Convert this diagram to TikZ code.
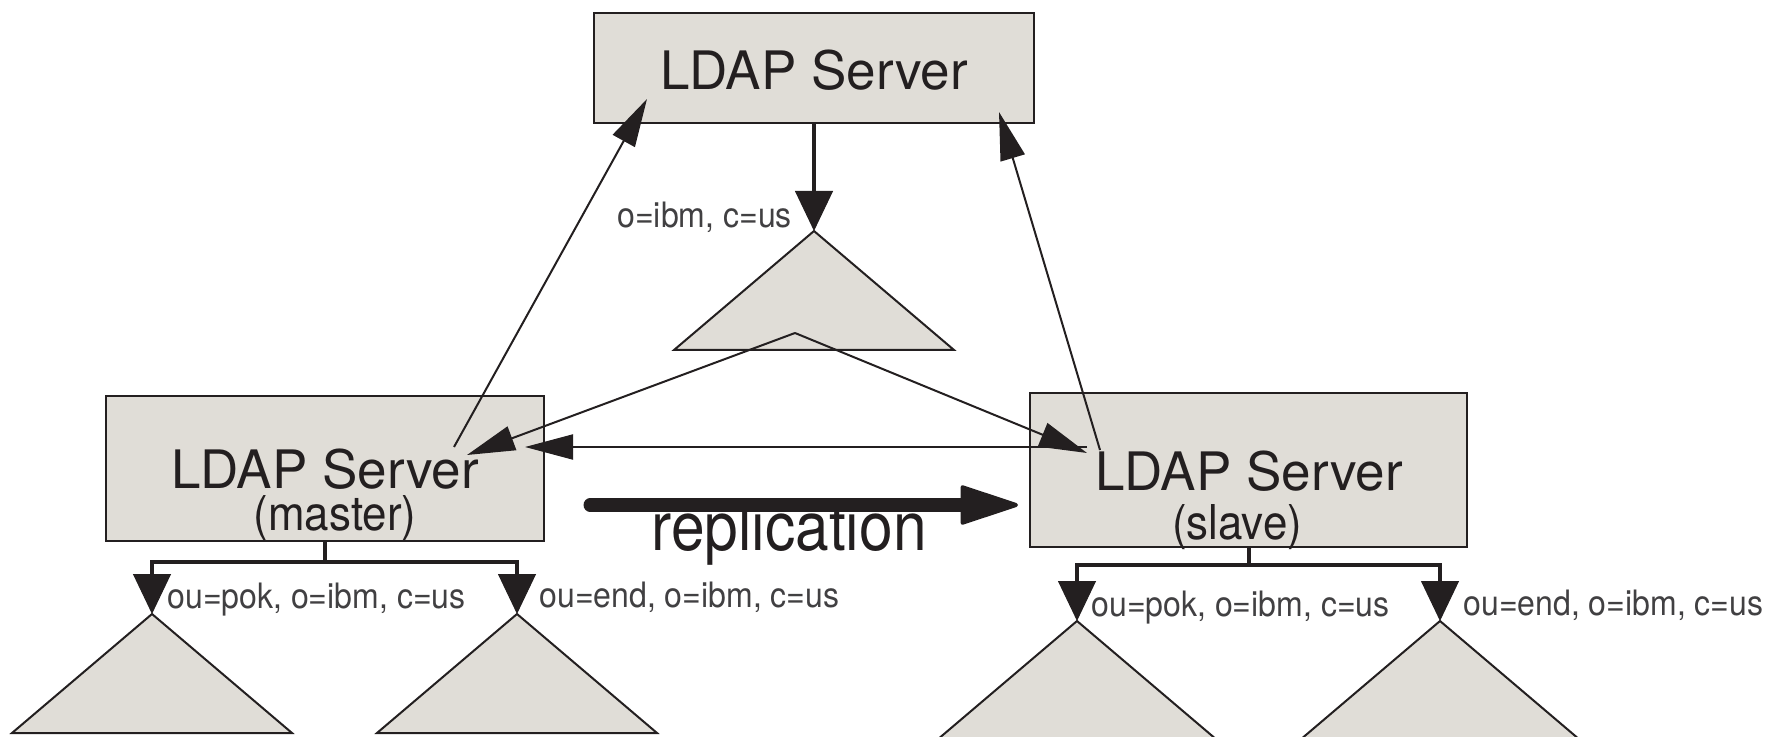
\documentclass[tikz,border=0pt]{standalone}
\usepackage{fontspec}
\setmainfont{TeX Gyre Heros}
\newfontfamily\narrowfont[FakeStretch=0.915]{TeX Gyre Heros}
\newfontfamily\replfont[FakeStretch=0.89]{TeX Gyre Heros}
\usetikzlibrary{arrows.meta}
\definecolor{boxfill}{HTML}{E0DDD7}
\definecolor{ink}{HTML}{231F20}
\definecolor{lbl}{HTML}{414042}
\begin{document}
\begin{tikzpicture}[x=0.5pt, y=-0.5pt,
	server/.style = {draw=ink, fill=boxfill, line width=1pt, inner sep=0pt},
	srvtext/.style = {inner sep=0pt, text=ink, font=\fontsize{26.5}{30}\selectfont},
	subtext/.style = {inner sep=0pt, text=ink, font=\narrowfont\fontsize{24}{27}\selectfont},
	dn/.style = {inner sep=0pt, anchor=base west, text=lbl, font=\narrowfont\fontsize{17.5}{20}\selectfont},
	subtree/.style = {draw=ink, fill=boxfill, line width=1pt},
	link/.style = {draw=ink, line width=1pt, -{Triangle[length=24pt, width=12.5pt]}},
	branch/.style = {draw=ink, line width=2pt, -{Triangle[length=20pt, width=19pt, line width=0.5pt]}},
	repl/.style = {draw=ink, line width=6.5pt, line cap=round, -{Triangle[length=31pt, width=20pt, line width=2pt, round]}}]
		\useasboundingbox (0,0) rectangle (1767,737);
		% servers
		\node[server, minimum width=220pt, minimum height=55pt] (top) at (814,68) {};
		\node[server, minimum width=219pt, minimum height=72.5pt] (master) at (325,468.5) {};
		\node[server, minimum width=218.5pt, minimum height=77pt] (slave) at (1248.5,470) {};
		% tree roots
		\coordinate (root) at (814,231);
		\coordinate (mpok) at (152,614);
		\coordinate (mend) at (517,614);
		\coordinate (spok) at (1077,621);
		\coordinate (send) at (1440,621);
		\foreach \r in {root, mpok, mend, spok, send}
		{
			\draw[subtree] (\r) -- ++(-140,119) -- ++(280,0) -- cycle;
		}
		% texts
		\node[srvtext] (toptxt) at (814,70) {LDAP Server};
		\node[srvtext] (mtxt) at (325,469) {LDAP Server};
		\node[subtext] (msub) at (335,518) {(master)};
		\node[srvtext] (stxt) at (1249,471) {LDAP Server};
		\node[subtext] (ssub) at (1237,527) {(slave)};
		\node[dn] (rootdn) at (617,228) {o=ibm, c=us};
		\node[dn] (mpokdn) at (167,608) {ou=pok, o=ibm, c=us};
		\node[dn] (menddn) at (539,607) {ou=end, o=ibm, c=us};
		\node[dn] (spokdn) at (1091,616) {ou=pok, o=ibm, c=us};
		\node[dn] (senddn) at (1463,615) {ou=end, o=ibm, c=us};
		% arrow ends
		\coordinate (topL) at (647,99);
		\coordinate (topR) at (999,112);
		\coordinate (mUp) at (454,447);
		\coordinate (sUp) at (1100,450);
		\coordinate (rootin) at (795,333);
		\coordinate (mIn) at (467,455);
		\coordinate (sIn) at (1087,453);
		\coordinate (mSide) at (525,447);
		\coordinate (sSide) at (1087,447);
		\coordinate (replA) at (590,505);
		\coordinate (replB) at (1018,505);
		% connectors
		\draw[branch] (top) -- (root);
		\draw[branch] (master.south) -- ++(0,20) -| (mpok);
		\draw[branch] (master.south) -- ++(0,20) -| (mend);
		\draw[branch] (slave.south) -- ++(0,17) -| (spok);
		\draw[branch] (slave.south) -- ++(0,17) -| (send);
		\draw[link] (mUp) -- (topL);
		\draw[link] (sUp) -- (topR);
		\draw[link] (rootin) -- (mIn);
		\draw[link] (rootin) -- (sIn);
		\draw[link] (sSide) -- (mSide);
		\draw[repl] (replA) -- (replB);
		\node[inner sep=0pt, anchor=base west, text=ink, font=\replfont\fontsize{34}{38}\selectfont] (repltxt) at (651,550) {replication};
		\end{tikzpicture}
\end{document}
